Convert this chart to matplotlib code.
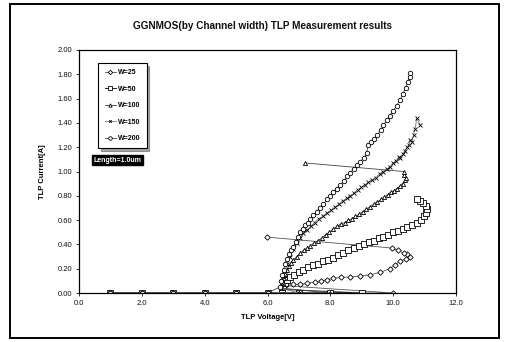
import matplotlib
matplotlib.use("Agg")
import matplotlib.pyplot as plt
from matplotlib.patches import Rectangle

plt.rcParams['font.family'] = ['Liberation Sans', 'DejaVu Sans']

COLOR_LINE = "#333333"
COLOR_TEXT = "#111111"

# dados (V, A)
pre_v25 = [1, 2, 3, 4, 5, 6, 7, 8, 9, 10]
pre_v50 = [1, 2, 3, 4, 5, 6, 7, 8, 9]
pre_v100 = [1, 2, 3, 4, 5, 6, 7, 8]
pre_v150 = [1, 2, 3, 4, 5, 6, 7]
pre_v200 = [1, 2, 3, 4, 5, 6]

v25 = [6.55, 6.80, 7.05, 7.25, 7.50, 7.70, 7.89, 8.10, 8.35, 8.63, 8.95, 9.27, 9.59, 9.90,
       10.05, 10.22, 10.40, 10.54, 10.45, 10.33, 10.15, 9.96, 5.98]
i25 = [0.06, 0.07, 0.07, 0.08, 0.09, 0.10, 0.11, 0.12, 0.13, 0.13, 0.14, 0.15, 0.17, 0.20,
       0.23, 0.26, 0.28, 0.30, 0.32, 0.33, 0.35, 0.37, 0.46]

v50 = [6.45, 6.50, 6.56, 6.63, 6.72, 6.85, 7.00, 7.14, 7.30, 7.46, 7.62, 7.77, 7.92, 8.08,
       8.24, 8.40, 8.57, 8.74, 8.90, 9.06, 9.22, 9.38, 9.54, 9.69, 9.85, 10.00, 10.15, 10.30,
       10.45, 10.60, 10.75, 10.88, 10.98, 11.05, 11.08, 11.04, 10.95, 10.85, 10.75]
i50 = [0.03, 0.06, 0.08, 0.11, 0.13, 0.15, 0.17, 0.19, 0.21, 0.23, 0.24, 0.26, 0.27, 0.29,
       0.31, 0.33, 0.35, 0.37, 0.39, 0.40, 0.42, 0.43, 0.45, 0.46, 0.48, 0.50, 0.51, 0.53,
       0.54, 0.56, 0.58, 0.60, 0.63, 0.66, 0.69, 0.72, 0.74, 0.76, 0.77]

v100 = [6.45, 6.48, 6.51, 6.56, 6.62, 6.69, 6.76, 6.82, 6.93, 7.04, 7.15, 7.26, 7.36, 7.48,
        7.60, 7.72, 7.85, 7.97, 8.10, 8.22, 8.34, 8.46, 8.57, 8.68, 8.80, 8.92, 9.04, 9.15,
        9.27, 9.38, 9.50, 9.61, 9.72, 9.82, 9.92, 10.02, 10.12, 10.22, 10.30, 10.38, 10.40,
        10.36, 10.33, 7.20]
i100 = [0.04, 0.08, 0.12, 0.16, 0.19, 0.22, 0.25, 0.27, 0.30, 0.33, 0.35, 0.37, 0.39, 0.41,
        0.43, 0.45, 0.48, 0.50, 0.53, 0.55, 0.57, 0.58, 0.60, 0.61, 0.63, 0.65, 0.67, 0.69,
        0.71, 0.73, 0.75, 0.77, 0.79, 0.81, 0.83, 0.84, 0.86, 0.88, 0.90, 0.93, 0.95,
        0.97, 1.00, 1.07]

v150 = [6.42, 6.45, 6.50, 6.56, 6.63, 6.72, 6.82, 6.93, 7.04, 7.14, 7.26, 7.38, 7.50, 7.63,
        7.76, 7.89, 8.02, 8.15, 8.28, 8.41, 8.53, 8.63, 8.75, 8.87, 8.99, 9.10, 9.21, 9.33,
        9.45, 9.57, 9.68, 9.80, 9.90, 10.00, 10.10, 10.18, 10.22, 10.30, 10.38, 10.45, 10.50,
        10.54, 10.60, 10.65, 10.70, 10.75, 10.86]
i150 = [0.04, 0.08, 0.13, 0.18, 0.24, 0.30, 0.36, 0.41, 0.45, 0.49, 0.52, 0.55, 0.58, 0.61,
        0.63, 0.66, 0.68, 0.71, 0.73, 0.76, 0.78, 0.80, 0.82, 0.85, 0.87, 0.89, 0.91, 0.93,
        0.95, 0.98, 1.00, 1.02, 1.04, 1.07, 1.09, 1.12, 1.11, 1.14, 1.17, 1.20, 1.22,
        1.26, 1.24, 1.30, 1.35, 1.44, 1.38]

v200 = [6.40, 6.43, 6.47, 6.51, 6.56, 6.62, 6.69, 6.76, 6.82, 6.90, 6.97, 7.04, 7.12, 7.20,
        7.28, 7.36, 7.46, 7.56, 7.67, 7.78, 7.89, 7.99, 8.10, 8.21, 8.32, 8.43, 8.53, 8.63,
        8.74, 8.84, 8.95, 9.06, 9.16, 9.20, 9.30, 9.40, 9.50, 9.60, 9.69, 9.79, 9.89, 10.00,
        10.11, 10.22, 10.31, 10.40, 10.47, 10.52, 10.55]
i200 = [0.05, 0.10, 0.15, 0.19, 0.24, 0.28, 0.32, 0.35, 0.38, 0.42, 0.46, 0.50, 0.53, 0.56,
        0.58, 0.61, 0.64, 0.67, 0.70, 0.73, 0.77, 0.80, 0.83, 0.86, 0.89, 0.92, 0.96, 0.99,
        1.02, 1.05, 1.08, 1.11, 1.15, 1.22, 1.24, 1.27, 1.30, 1.34, 1.38, 1.42, 1.46, 1.50,
        1.54, 1.59, 1.64, 1.69, 1.74, 1.78, 1.81]

x_ticks = [0, 2, 4, 6, 8, 10, 12]
y_ticks = [0.0, 0.2, 0.4, 0.6, 0.8, 1.0, 1.2, 1.4, 1.6, 1.8, 2.0]

series = [
    ("W=25", pre_v25, v25, i25, "D", 2.8, "#555555", 0.6),
    ("W=50", pre_v50, v50, i50, "s", 4.0, "#222222", 0.7),
    ("W=100", pre_v100, v100, i100, "^", 3.0, "#444444", 0.6),
    ("W=150", pre_v150, v150, i150, "x", 2.4, "#777777", 0.6),
    ("W=200", pre_v200, v200, i200, "o", 3.2, "#444444", 0.6),
]

fig = plt.figure(figsize=(5.05, 3.42), dpi=100, facecolor="white")
ax = fig.add_axes([79 / 505, 49 / 342, 377 / 505, 243 / 342])

for nome, pre, vv, ii, mk, ms, cor, lw in series:
    xs = pre + vv
    ys = [0.0] * len(pre) + ii
    face = "none" if mk == "x" else "white"
    ax.plot(xs, ys, color=cor, lw=lw, marker=mk, ms=ms, mfc=face, mec="black", mew=0.6, label=nome)

ax.set_xlim(0, 12)
ax.set_ylim(0, 2.0)
ax.set_xticks(x_ticks)
ax.set_yticks(y_ticks)
ax.set_xticklabels([f"{t:.1f}" for t in x_ticks])
ax.set_yticklabels([f"{t:.2f}" for t in y_ticks])
ax.tick_params(labelsize=5.5, length=2, width=0.6, colors=COLOR_TEXT, pad=3)
for s in ax.spines.values():
    s.set_color("black")
    s.set_linewidth(0.9)

ax.set_xlabel("TLP Voltage[V]", fontsize=5.5, fontweight="bold", labelpad=5)
ax.set_ylabel("TLP Current[A]", fontsize=5.5, fontweight="bold", labelpad=8)
fig.text(0.52, 0.925, "GGNMOS(by Channel width) TLP Measurement results",
         ha="center", va="center", fontsize=7.2, fontweight="bold", color=COLOR_TEXT)

leg = ax.legend(loc="upper left", bbox_to_anchor=(0.042, 0.96), prop={"weight": "bold", "size": 5},
                labelspacing=1.35, handlelength=1.6, handletextpad=0.3, borderpad=0.9,
                markerscale=0.8, frameon=True, fancybox=False, shadow=True, edgecolor="black")
leg.get_frame().set_linewidth(0.8)

ax.text(0.038, 0.547, "Length=1.0um", transform=ax.transAxes, fontsize=5, fontweight="bold",
        color="white", va="center", ha="left",
        bbox=dict(boxstyle="square,pad=0.25", facecolor="black", edgecolor="black"))

# moldura externa
fig.patches.append(Rectangle((10 / 505, 4 / 342), 489 / 505, 334 / 342, transform=fig.transFigure,
                             fill=False, edgecolor="black", linewidth=1.4))

fig.savefig("out.png", dpi=100, facecolor="white")
